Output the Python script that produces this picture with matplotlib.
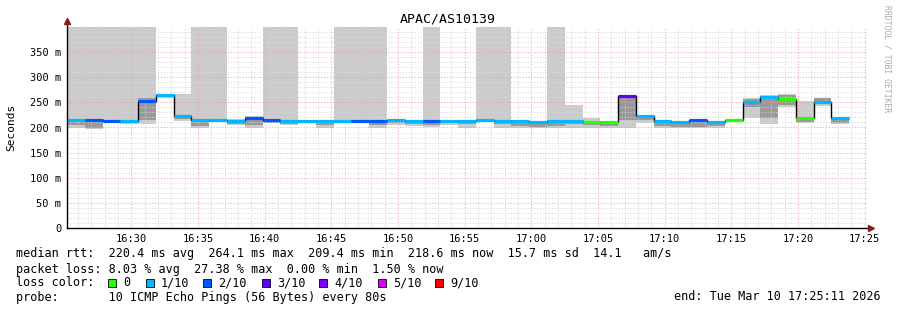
import matplotlib
matplotlib.use('Agg')
import matplotlib.pyplot as plt
from matplotlib.patches import Rectangle
import numpy as np

# ---- data (ms), one entry per 80 s step, starting 16:25:11 ----
median = [215, 215, 213, 213, 252, 264, 223, 214, 215, 213, 218,
          214, 213, 213, 213, 213, 213, 213, 215, 213, 213, 212,
          212, 214, 212, 212, 210, 212, 212, 211, 210, 262, 222,
          212, 211, 214, 211, 214, 251, 261, 256, 219, 251, 218]
loss = [1, 2, 2, 1, 2, 1, 1, 1, 1, 1, 2,
        2, 1, 1, 1, 1, 2, 2, 1, 1, 2, 1,
        1, 1, 1, 1, 1, 1, 1, 0, 0, 3, 1,
        1, 1, 2, 1, 0, 1, 1, 0, 0, 1, 1]
smoke_lo = [200, 198, 208, 207, 207, 258, 213, 200, 210, 205, 199,
            208, 204, 210, 200, 210, 210, 200, 204, 203, 201, 205,
            199, 210, 200, 200, 199, 200, 200, 200, 200, 199, 208,
            200, 199, 199, 200, 210, 219, 207, 241, 208, 242, 207]
smoke_hi = [420, 420, 420, 420, 420, 267, 267, 420, 420, 217, 222,
            420, 420, 215, 215, 420, 420, 420, 216, 215, 420, 214,
            214, 420, 420, 214, 213, 420, 245, 219, 211, 263, 223,
            213, 212, 215, 212, 215, 258, 264, 267, 253, 258, 219]
core_lo = [205, 200, 209, 208, 215, 260, 216, 203, 211, 207, 205,
           208, 207, 211, 204, 211, 211, 204, 209, 206, 205, 208,
           206, 212, 206, 202, 201, 203, 206, 205, 202, 215, 214,
           203, 201, 201, 203, 211, 240, 219, 245, 210, 248, 208]
core_hi = [215, 215, 213, 213, 258, 264, 223, 214, 215, 213, 219,
           214, 213, 213, 213, 213, 213, 213, 215, 213, 213, 212,
           212, 214, 212, 212, 212, 212, 212, 211, 210, 262, 222,
           212, 211, 214, 211, 214, 257, 263, 264, 219, 258, 218]

loss_colors = ['#26ff00', '#00b8ff', '#0059ff', '#5e00ff', '#7e00ff', '#dd00ff', '#ff0000']
loss_labels = ['0', '1/10', '2/10', '3/10', '4/10', '5/10', '9/10']

xticks = [30, 35, 40, 45, 50, 55, 60, 65, 70, 75, 80, 85]
xlabels = ['16:30', '16:35', '16:40', '16:45', '16:50', '16:55',
           '17:00', '17:05', '17:10', '17:15', '17:20', '17:25']
yticks = [0, 50, 100, 150, 200, 250, 300, 350]
ylabels = ['0', '50 m', '100 m', '150 m', '200 m', '250 m', '300 m', '350 m']

W, H = 897, 310
mono = 'DejaVu Sans Mono'

t0 = 25 + 11 / 60.0          # minutes after 16:00
step = 80 / 60.0
n = len(median)
starts = t0 + np.arange(n) * step
edges = t0 + np.arange(n + 1) * step

fig = plt.figure(figsize=(W / 100, H / 100), dpi=100)
ax = fig.add_axes([67 / W, (H - 228) / H, 800 / W, 201 / H])
ax.set_xlim(t0, t0 + 60)
ax.set_ylim(0, 400)

# smoke
lo = np.array(smoke_lo); hi = np.array(smoke_hi)
ax.bar(starts, hi - lo, bottom=lo, width=step, align='edge', color='#cbcbcb', linewidth=0, zorder=1)
clo = np.array(core_lo); chi = np.array(core_hi)
ax.bar(starts, chi - clo, bottom=clo, width=step, align='edge', color='#999999', linewidth=0, zorder=1.2)

# grid drawn above smoke, like rrdtool
for m in np.arange(26, 86):
    c = '#f2a0a0' if m % 5 == 0 else '#d0d0d0'
    ax.axvline(m, color=c, lw=0.6, ls=(0, (1.5, 2)), zorder=2)
for v in range(10, 400, 10):
    c = '#f2a0a0' if v % 50 == 0 else '#d8d8d8'
    ax.axhline(v, color=c, lw=0.6, ls=(0, (1.5, 2)), zorder=2)

# median
ax.stairs(median, edges, baseline=None, color='black', lw=1.0, zorder=3)
ax.hlines(median, starts, starts + step, colors=[loss_colors[i] for i in loss], lw=2.3, zorder=4)

ax.set_xticks(xticks)
ax.set_xticklabels(xlabels, fontfamily=mono, fontsize=7.5)
ax.set_yticks(yticks)
ax.set_yticklabels(ylabels, fontfamily=mono, fontsize=7.5)
ax.tick_params(length=0, pad=4)
for s in ['top', 'right', 'left', 'bottom']:
    ax.spines[s].set_visible(False)

# axis lines with arrows
ax.plot([0, 0], [0, 1.025], transform=ax.transAxes, color='black', lw=1, clip_on=False, zorder=6)
ax.plot([0, 1.0035], [0, 0], transform=ax.transAxes, color='black', lw=1, clip_on=False, zorder=6)
ax.plot([0], [1.03], transform=ax.transAxes, marker='^', color='#8b1a1a', ms=4, clip_on=False, zorder=7)
ax.plot([1.005], [0], transform=ax.transAxes, marker='>', color='#8b1a1a', ms=4, clip_on=False, zorder=7)

fig.text(448 / W, 1 - 19 / H, 'APAC/AS10139', ha='center', va='center', fontfamily=mono, fontsize=9.5)
fig.text(11 / W, 1 - 127 / H, 'Seconds', rotation=90, ha='center', va='center', fontfamily=mono, fontsize=8)
fig.text(887 / W, 1 - 59 / H, 'RRDTOOL / TOBI OETIKER', rotation=270, ha='center', va='center',
         fontfamily=mono, fontsize=5.8, color='#aaaaaa')

# legend lines
fs = 8.5
fig.text(16 / W, 1 - 254 / H,
         'median rtt:  220.4 ms avg  264.1 ms max  209.4 ms min  218.6 ms now  15.7 ms sd  14.1   am/s',
         va='center', fontfamily=mono, fontsize=fs)
fig.text(16 / W, 1 - 269 / H,
         'packet loss: 8.03 % avg  27.38 % max  0.00 % min  1.50 % now',
         va='center', fontfamily=mono, fontsize=fs)
fig.text(16 / W, 1 - 283 / H, 'loss color:', va='center', fontfamily=mono, fontsize=fs)
sq_x = [108, 146, 203, 262, 319, 378, 435]
for i in range(len(loss_labels)):
    fig.patches.append(Rectangle((sq_x[i] / W, 1 - 287 / H), 8 / W, 8 / H, transform=fig.transFigure,
                                 facecolor=loss_colors[i], edgecolor='black', lw=0.6))
    fig.text((sq_x[i] + 15) / W, 1 - 283 / H, loss_labels[i], va='center', fontfamily=mono, fontsize=fs)
fig.text(16 / W, 1 - 297 / H, 'probe:       10 ICMP Echo Pings (56 Bytes) every 80s',
         va='center', fontfamily=mono, fontsize=fs)
fig.text(881 / W, 1 - 297 / H, 'end: Tue Mar 10 17:25:11 2026', ha='right', va='center',
         fontfamily=mono, fontsize=fs)

fig.savefig('out.png', dpi=100)
